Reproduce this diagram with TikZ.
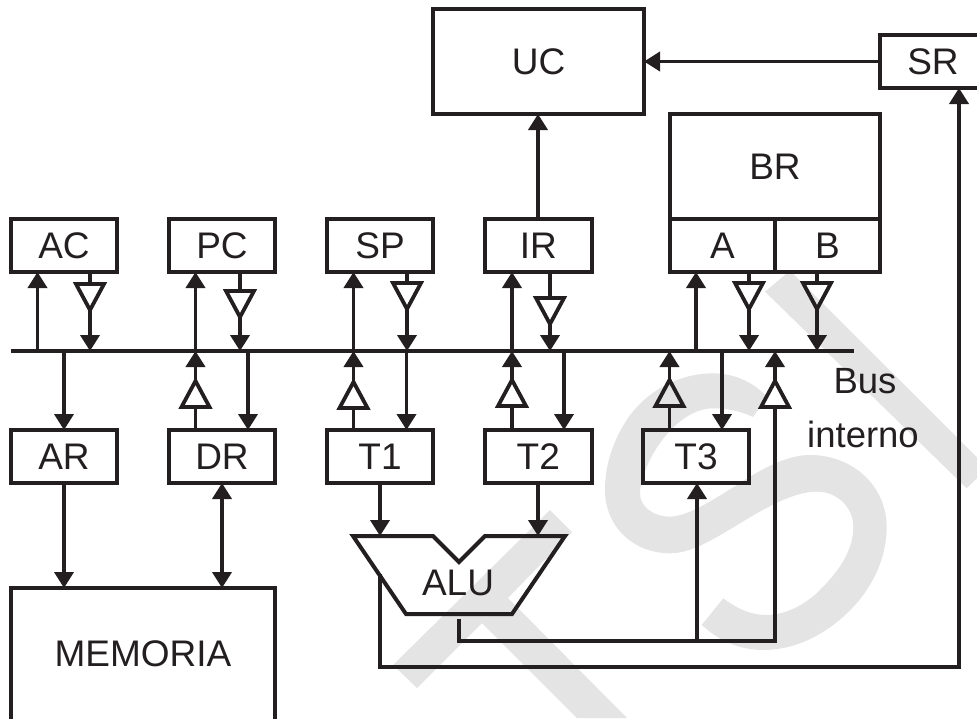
\documentclass[tikz,border=0pt]{standalone}
\usepackage{fontspec}
\setmainfont{Liberation Sans}
\usetikzlibrary{arrows.meta,calc}
\definecolor{wm}{HTML}{E4E4E4}
\definecolor{ink}{HTML}{231F20}
\tikzset{
  reg/.style={draw=ink,line width=4pt,inner sep=0pt,outer sep=0pt,anchor=north west,text=ink},
  wire/.style={draw=ink,line width=3.8pt},
  arr/.style={wire,-{Triangle[length=16pt,width=19pt]}},
  darr/.style={wire,{Triangle[length=16pt,width=19pt]}-{Triangle[length=16pt,width=19pt]}},
  lab/.style={text=ink,inner sep=0pt},
}
% name, x, top y (triangle pointing down)
\newcommand\BufDown[3]{%
  \coordinate (#1t) at (#2,#3);
  \coordinate (#1a) at (#2,#3+26);
  \draw[wire,miter limit=10] (#2-14,#3) -- (#2+14,#3) -- (#2,#3+26) -- cycle;}
% name, x, base y (triangle pointing up)
\newcommand\BufUp[3]{%
  \coordinate (#1t) at (#2,#3);
  \coordinate (#1a) at (#2,#3-26);
  \draw[wire,miter limit=10] (#2-14,#3) -- (#2+14,#3) -- (#2,#3-26) -- cycle;}
\newcommand\Reg[6]{% name, x0, y0, x1, y1, text
  \node[reg,minimum width={(#4-#2)*1pt},minimum height={(#5-#3)*1pt}] (#1) at (#2,#3) {#6};}
\begin{document}
\begin{tikzpicture}[x=1pt,y=-1pt,font=\fontsize{37}{40}\selectfont]
\path[use as bounding box] (0,0) rectangle (977,718);
\clip (0,0) rectangle (977,718);
% watermark
\fill[wm] (393,665) -- (550,510) -- (572,532) -- (508,598) -- (627,718) -- (577,718) -- (482,623) -- (417,688) -- cycle;
\begin{scope}[shift={(590,250)},x=0.3333pt,y=-0.3333pt]
\fill[wm] (525,125) -- (600,62) -- (1161,622) -- (1161,685) -- (1130,715) -- cycle;
\fill[wm] (531,441) .. controls (490,395) and (430,370) .. (370,370)
 .. controls (270,370) and (170,420) .. (110,510)
 .. controls (65,580) and (45,650) .. (45,720)
 .. controls (45,830) and (130,910) .. (240,910)
 .. controls (290,910) and (340,885) .. (400,850)
 .. controls (470,810) and (590,725) .. (680,725)
 .. controls (745,725) and (790,775) .. (790,830)
 .. controls (790,900) and (750,960) .. (690,1020)
 .. controls (640,1070) and (580,1095) .. (530,1095)
 .. controls (480,1095) and (440,1075) .. (400,1045)
 -- (335,1125)
 .. controls (390,1175) and (450,1200) .. (520,1200)
 .. controls (620,1200) and (720,1150) .. (800,1060)
 .. controls (860,990) and (890,910) .. (890,830)
 .. controls (890,710) and (790,615) .. (660,615)
 .. controls (600,615) and (540,645) .. (480,680)
 .. controls (400,730) and (300,800) .. (240,800)
 .. controls (190,800) and (150,770) .. (150,730)
 .. controls (150,650) and (250,475) .. (370,475)
 .. controls (415,475) and (455,485) .. (489,501) -- cycle;
\end{scope}
% registers
\Reg{UC}{433}{9}{644}{114}{UC}
\Reg{SR}{880}{35}{986}{88}{SR}
\Reg{BR}{670}{114}{880}{219}{BR}
\Reg{A}{670}{219}{775}{272}{A}
\Reg{B}{775}{219}{880}{272}{B}
\Reg{AC}{11}{219}{117}{272}{AC}
\Reg{PC}{169}{219}{275}{272}{PC}
\Reg{SP}{327}{219}{433}{272}{SP}
\Reg{IR}{485}{219}{591.5}{272}{IR}
\Reg{AR}{11}{430}{117}{483}{AR}
\Reg{DR}{169}{430}{275}{483}{DR}
\Reg{T1}{327}{430}{433}{483}{T1}
\Reg{T2}{485}{430}{591.5}{483}{T2}
\Reg{T3}{643}{430}{749}{483}{T3}
\Reg{MEM}{11}{588}{275}{740}{}
\node[lab] (memtext) at (143,654) {MEMORIA};
% bus
\coordinate (busL) at (11,351);
\coordinate (busR) at (854,351);
\draw[wire,line width=4pt] (busL) -- (busR);
\node[lab] (bus1) at (865,381) {\fontsize{36.5}{40}\selectfont Bus};
\node[lab] (bus2) at (863,434) {\fontsize{36.5}{40}\selectfont interno};
% ALU
\draw[wire,line width=4pt,line join=miter]
  (353,536) coordinate (aluTL) -- (433,536) -- (459,562) -- (485,536) -- (565,536) coordinate (aluTR)
  -- (512,614) -- (406,614) coordinate (aluBL) -- cycle;
\coordinate (aluIn1) at (380,536);
\coordinate (aluIn2) at (538,536);
\coordinate (aluOut) at (459,619);
\coordinate (aluFlag) at (380,574);
\node[lab] (ALU) at (458,583) {ALU};
% upper registers to/from bus
\draw[arr] (busL -| 37.5,0) -- (AC.south -| 37.5,0);
\BufDown{ba}{90}{284}
\draw[wire] (AC.south -| bat) -- (bat);
\draw[arr] (baa) -- (busL -| baa);
\draw[arr] (busL -| 195.5,0) -- (PC.south -| 195.5,0);
\BufDown{bp}{240}{291}
\draw[wire] (PC.south -| bpt) -- (bpt);
\draw[arr] (bpa) -- (busL -| bpa);
\draw[arr] (busL -| 353.5,0) -- (SP.south -| 353.5,0);
\BufDown{bs}{407}{283}
\draw[wire] (SP.south -| bst) -- (bst);
\draw[arr] (bsa) -- (busL -| bsa);
\draw[arr] (busL -| 512,0) -- (IR.south -| 512,0);
\BufDown{bi}{550}{298}
\draw[wire] (IR.south -| bit) -- (bit);
\draw[arr] (bia) -- (busL -| bia);
\draw[arr] (busL -| 696,0) -- (A.south -| 696,0);
\BufDown{bA}{749}{283}
\draw[wire] (A.south -| bAt) -- (bAt);
\draw[arr] (bAa) -- (busL -| bAa);
\BufDown{bB}{817}{283}
\draw[wire] (B.south -| bBt) -- (bBt);
\draw[arr] (bBa) -- (busL -| bBa);
% lower registers to/from bus
\draw[arr] (busL -| 64,0) -- (AR.north -| 64,0);
\BufUp{bd}{195.5}{407}
\draw[wire] (DR.north -| bdt) -- (bdt);
\draw[arr] (bda) -- (busL -| bda);
\draw[arr] (busL -| 248,0) -- (DR.north -| 248,0);
\BufUp{bo}{353.5}{408}
\draw[wire] (T1.north -| bot) -- (bot);
\draw[arr] (boa) -- (busL -| boa);
\draw[arr] (busL -| 406.5,0) -- (T1.north -| 406.5,0);
\BufUp{bw}{512}{406}
\draw[wire] (T2.north -| bwt) -- (bwt);
\draw[arr] (bwa) -- (busL -| bwa);
\draw[arr] (busL -| 564,0) -- (T2.north -| 564,0);
\BufUp{bh}{669.5}{406}
\draw[wire] (T3.north -| bht) -- (bht);
\draw[arr] (bha) -- (busL -| bha);
\draw[arr] (busL -| 722,0) -- (T3.north -| 722,0);
\BufUp{br}{775}{407}
\draw[arr] (bra) -- (busL -| bra);
% others
\draw[arr] (AR.south -| 64,0) -- (MEM.north -| 64,0);
\draw[darr] (DR.south -| 222,0) -- (MEM.north -| 222,0);
\draw[arr] (T1.south -| aluIn1) -- (aluIn1);
\draw[arr] (T2.south -| aluIn2) -- (aluIn2);
\draw[arr] (IR.north -| 538,0) -- (UC.south -| 538,0);
\draw[arr] (SR.west) -- (UC.east |- SR.west);
\coordinate (join) at (697,641);
\draw[wire] (aluOut) -- (aluOut |- join) -- (brt |- join) -- (brt);
\draw[arr] (join) -- (T3.south -| join);
\draw[arr] (aluFlag) -- (380,667) -- (959,667) -- (SR.south -| 959,0);
\end{tikzpicture}
\end{document}
